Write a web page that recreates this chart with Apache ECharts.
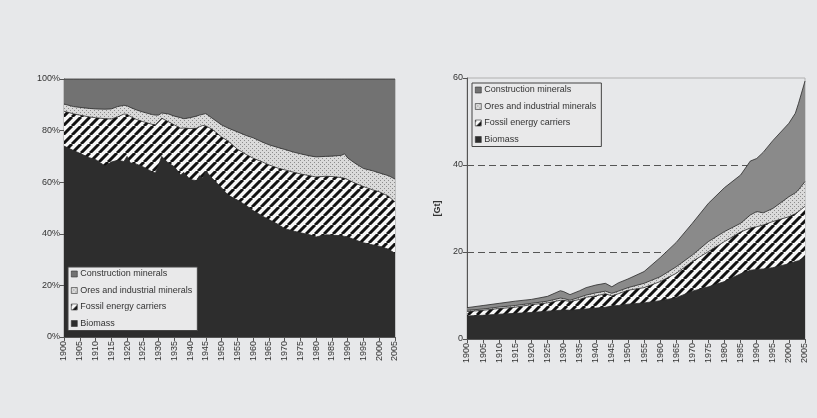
<!DOCTYPE html>
<html>
<head>
<meta charset="utf-8">
<script src="https://cdn.jsdelivr.net/npm/echarts@6/dist/echarts.min.js"></script>
<style>
  html, body { margin: 0; padding: 0; background: #e7e8ea; }
  #chart { width: 817px; height: 418px; }
</style>
</head>
<body>
<div id="chart"></div>
<script>
// Material categories, bottom of the stack first
const categories = ['Biomass', 'Fossil energy carriers', 'Ores and industrial minerals', 'Construction minerals'];

// Left panel: shares of total extraction [%]
const shareYears = [1900, 1903, 1905, 1908, 1910, 1913, 1915, 1917, 1919, 1920, 1921, 1923, 1925, 1928, 1929, 1930,
  1931, 1933, 1935, 1937, 1938, 1940, 1942, 1943, 1944, 1945, 1947, 1950, 1952, 1955, 1958, 1960, 1963, 1965, 1968,
  1970, 1973, 1975, 1978, 1980, 1983, 1985, 1988, 1989, 1990, 1992, 1995, 1998, 2000, 2003, 2005];
const shareBiomass = [74.0, 72.3, 71.2, 69.5, 68.8, 66.3, 67.8, 68.5, 68.0, 70.0, 67.5, 67.0, 66.0, 64.0, 63.6, 66.5,
  70.0, 67.5, 66.0, 62.8, 63.8, 61.0, 60.6, 62.5, 61.5, 64.3, 61.5, 57.8, 55.0, 53.1, 50.8, 49.0, 46.8, 45.5, 43.6,
  42.0, 41.0, 40.4, 39.6, 38.8, 39.6, 39.5, 39.2, 39.0, 38.8, 37.8, 36.5, 35.7, 35.2, 34.0, 32.4];
const shareFossil = [13.5, 14.2, 14.8, 15.8, 16.2, 18.3, 16.7, 16.8, 18.4, 16.3, 18.0, 17.3, 17.5, 18.4, 18.7, 17.0,
  14.8, 16.0, 16.2, 18.1, 17.2, 19.8, 20.3, 19.0, 20.5, 17.5, 19.0, 19.7, 21.0, 19.7, 19.8, 20.3, 21.0, 21.2, 21.8,
  22.8, 22.8, 22.8, 22.9, 23.2, 22.7, 22.7, 22.6, 22.5, 22.2, 22.0, 21.8, 21.3, 21.1, 20.5, 19.9];
const shareOres = [2.8, 2.8, 3.0, 3.3, 3.4, 3.7, 3.9, 4.0, 3.4, 3.3, 3.5, 3.7, 3.7, 3.8, 3.7, 2.5,
  2.0, 3.0, 3.4, 4.1, 3.6, 4.2, 4.7, 4.5, 4.3, 4.8, 4.3, 4.7, 5.0, 6.7, 7.4, 7.9, 7.7, 7.8, 8.0,
  7.9, 7.8, 7.8, 7.7, 7.8, 7.7, 7.9, 8.6, 9.5, 8.4, 7.8, 7.0, 7.4, 7.3, 8.0, 8.9];
const shareConstruction = [9.7, 10.7, 11.0, 11.4, 11.6, 11.7, 11.6, 10.7, 10.2, 10.4, 11.0, 12.0, 12.8, 13.8, 14.0, 14.0,
  13.2, 13.5, 14.4, 15.0, 15.4, 15.0, 14.4, 14.0, 13.7, 13.4, 15.2, 17.8, 19.0, 20.5, 22.0, 22.8, 24.5, 25.5, 26.6,
  27.3, 28.4, 29.0, 29.8, 30.2, 30.0, 29.9, 29.6, 29.0, 30.6, 32.4, 34.7, 35.6, 36.4, 37.5, 38.8];

// Right panel: extraction [Gt]
const massYears = [1900, 1905, 1910, 1915, 1920, 1925, 1929, 1930, 1932, 1935, 1937, 1940, 1943, 1945, 1947, 1950,
  1955, 1960, 1965, 1970, 1975, 1980, 1985, 1988, 1990, 1992, 1995, 2000, 2002, 2003, 2005];
const massBiomass = [5.3, 5.45, 5.7, 5.9, 6.1, 6.4, 6.6, 6.7, 6.6, 6.8, 6.9, 7.1, 7.3, 7.6, 7.7, 8.0,
  8.3, 8.8, 9.5, 11.0, 12.0, 13.2, 15.0, 15.8, 16.0, 16.1, 16.4, 17.3, 17.8, 18.0, 18.8];
const massFossil = [1.0, 1.15, 1.3, 1.4, 1.8, 1.9, 2.3, 2.2, 2.0, 2.3, 2.7, 2.8, 3.1, 2.3, 2.7, 3.2,
  3.5, 4.4, 5.6, 6.8, 8.1, 9.2, 9.6, 9.7, 9.8, 10.1, 10.6, 10.8, 11.0, 11.3, 11.7];
const massOres = [0.3, 0.3, 0.35, 0.4, 0.3, 0.4, 0.5, 0.4, 0.3, 0.5, 0.5, 0.7, 0.6, 0.6, 0.6, 0.6,
  1.0, 1.1, 1.5, 1.5, 2.3, 2.3, 2.0, 3.0, 3.5, 2.8, 3.0, 4.6, 4.8, 5.0, 5.7];
const massConstruction = [0.6, 0.8, 0.85, 1.0, 0.9, 1.1, 1.7, 1.6, 1.3, 1.5, 1.7, 1.8, 1.8, 1.5, 1.9, 2.0,
  2.7, 4.4, 5.6, 7.3, 8.8, 10.1, 11.1, 12.4, 12.2, 13.9, 15.6, 16.9, 18.3, 19.9, 23.1];

// ---- fill patterns ----
function stripeTile(size, lw) {
  const c = document.createElement('canvas');
  c.width = c.height = size;
  const g = c.getContext('2d');
  g.fillStyle = '#f7f7f7';
  g.fillRect(0, 0, size, size);
  g.strokeStyle = '#111';
  g.lineWidth = lw;
  g.beginPath();
  for (const o of [-size, 0, size]) { g.moveTo(o, size); g.lineTo(o + size, 0); }
  g.stroke();
  return c;
}
function dotTile() {
  const c = document.createElement('canvas');
  c.width = c.height = 4;
  const g = c.getContext('2d');
  g.fillStyle = '#dadada';
  g.fillRect(0, 0, 4, 4);
  g.fillStyle = '#8c8c8c';
  g.fillRect(0, 0, 1, 1);
  g.fillRect(2, 2, 1, 1);
  return c;
}
const stripes = { image: stripeTile(9, 3), repeat: 'repeat' };
const dots = { image: dotTile(), repeat: 'repeat' };
const leftFills = ['#2d2d2d', stripes, dots, '#727272'];
const rightFills = ['#2d2d2d', stripes, dots, '#8a8a8a'];

const font = 'Liberation Sans, Arial, sans-serif';
const txt = '#333';

// Layers are stacked by running sums; the tallest layer is painted first,
// each lower layer is painted over it, so every band shows its own fill.
function stackSeries(gridIdx, years, arrays, fills) {
  const running = years.map(() => 0);
  const tops = arrays.map(arr => arr.map((v, i) => (running[i] += v)));
  const out = [];
  for (let k = arrays.length - 1; k >= 0; k--) {
    out.push({
      name: categories[k],
      type: 'line',
      xAxisIndex: gridIdx,
      yAxisIndex: gridIdx,
      symbol: 'none',
      smooth: false,
      itemStyle: { color: fills[k] },
      lineStyle: { color: '#2a2a2a', width: 0.8 },
      areaStyle: { color: fills[k], opacity: 1, origin: 'start' },
      data: years.map((y, i) => [y, tops[k][i]])
    });
  }
  return out;
}

function xAxisFor(gridIdx) {
  return {
    type: 'value', gridIndex: gridIdx, min: 1900, max: 2005, interval: 5,
    axisLine: { show: true, lineStyle: { color: '#555', width: 1 } },
    axisTick: { show: true, length: 4, lineStyle: { color: '#555' } },
    axisLabel: { rotate: 90, fontSize: 9, color: txt, fontFamily: font, margin: 4,
                 formatter: v => String(v), showMinLabel: true, showMaxLabel: true },
    splitLine: { show: false }
  };
}

const legendBase = {
  orient: 'vertical',
  icon: 'rect',
  itemWidth: 6, itemHeight: 6,
  itemGap: 6.5,
  backgroundColor: '#e9e9ea',
  borderColor: '#444', borderWidth: 1, borderRadius: 0,
  padding: [2, 5, 2, 3],
  textStyle: { fontSize: 9, color: txt, fontFamily: font, lineHeight: 10, padding: [0, 0, 0, -2] },
  itemStyle: { borderColor: '#333', borderWidth: 0.6 },
  data: categories.slice().reverse()
};

const option = {
  backgroundColor: '#e7e8ea',
  animation: false,
  grid: [
    { left: 64, right: 422, top: 79, bottom: 81, show: true, borderColor: '#9a9a9a', borderWidth: 1, backgroundColor: 'transparent' },
    { left: 467, right: 12, top: 78, bottom: 79, show: true, borderColor: '#b0b0b0', borderWidth: 1, backgroundColor: 'transparent' }
  ],
  xAxis: [xAxisFor(0), xAxisFor(1)],
  yAxis: [
    {
      type: 'value', gridIndex: 0, min: 0, max: 100, interval: 20,
      axisLine: { show: true, lineStyle: { color: '#555' } },
      axisTick: { show: true, length: 4, lineStyle: { color: '#555' } },
      axisLabel: { formatter: '{value}%', fontSize: 9, color: txt, fontFamily: font, margin: 4 },
      splitLine: { show: false }
    },
    {
      type: 'value', gridIndex: 1, min: 0, max: 60, interval: 20,
      name: '[Gt]', nameLocation: 'middle', nameGap: 25, nameRotate: 90,
      nameTextStyle: { fontSize: 9, fontWeight: 'bold', color: txt, fontFamily: font },
      axisLine: { show: true, lineStyle: { color: '#555' } },
      axisTick: { show: true, length: 4, lineStyle: { color: '#555' } },
      axisLabel: { fontSize: 9, color: txt, fontFamily: font, margin: 4 },
      splitLine: { show: true, lineStyle: { color: ['rgba(0,0,0,0)', '#555', '#555', 'rgba(0,0,0,0)'], type: [7, 4], width: 1 } }
    }
  ],
  legend: [
    Object.assign({}, legendBase, { left: 68, top: 267 }),
    Object.assign({}, legendBase, { left: 472, top: 83 })
  ],
  series: [
    ...stackSeries(0, shareYears, [shareBiomass, shareFossil, shareOres, shareConstruction], leftFills),
    ...stackSeries(1, massYears, [massBiomass, massFossil, massOres, massConstruction], rightFills)
  ]
};

const chart = echarts.init(document.getElementById('chart'), null, { renderer: 'canvas' });
chart.setOption(option);
</script>
</body>
</html>
